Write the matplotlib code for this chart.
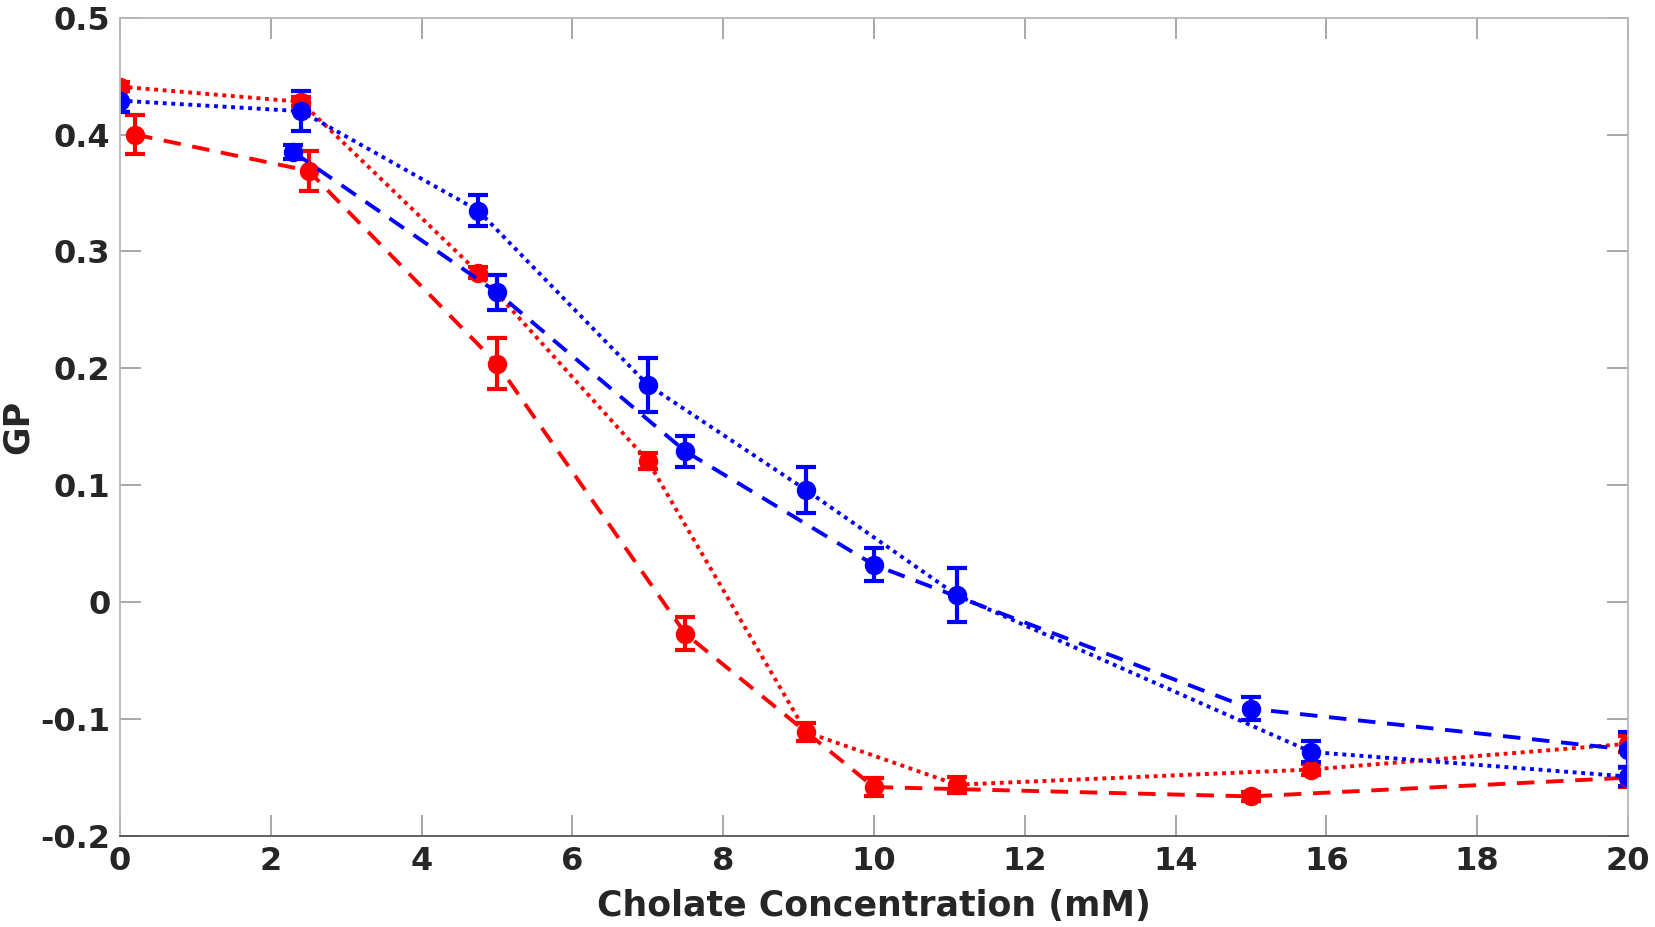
import numpy as np
import matplotlib
matplotlib.use("Agg")
import matplotlib.pyplot as plt

# red, dashed
red_dash_x = [0.2, 2.5, 5.0, 7.5, 10.0, 15.0, 20.0]
red_dash_y = [0.400, 0.369, 0.204, -0.027, -0.158, -0.166, -0.150]
red_dash_err = [0.017, 0.017, 0.022, 0.014, 0.008, 0.004, 0.008]

# red, dotted
red_dot_x = [0.0, 2.4, 4.75, 7.0, 9.1, 11.1, 15.8, 20.0]
red_dot_y = [0.441, 0.428, 0.282, 0.121, -0.111, -0.156, -0.143, -0.121]
red_dot_err = [0.004, 0.004, 0.005, 0.007, 0.008, 0.007, 0.005, 0.007]

# blue, dashed
blue_dash_x = [2.3, 5.0, 7.5, 10.0, 15.0, 20.0]
blue_dash_y = [0.385, 0.265, 0.129, 0.032, -0.091, -0.126]
blue_dash_err = [0.006, 0.015, 0.013, 0.014, 0.010, 0.015]

# blue, dotted
blue_dot_x = [0.0, 2.4, 4.75, 7.0, 9.1, 11.1, 15.8, 20.0]
blue_dot_y = [0.429, 0.420, 0.335, 0.186, 0.096, 0.006, -0.128, -0.149]
blue_dot_err = [0.010, 0.017, 0.013, 0.023, 0.020, 0.023, 0.009, 0.008]

xticks = np.arange(0, 21, 2)
yticks = [-0.2, -0.1, 0, 0.1, 0.2, 0.3, 0.4, 0.5]
ytick_labels = ["-0.2", "-0.1", "0", "0.1", "0.2", "0.3", "0.4", "0.5"]

fig = plt.figure(figsize=(16.56, 9.27), dpi=100)
ax = fig.add_axes([0.0725, 0.098, 0.9105, 0.883])

dash = (0, (4.5, 3))
dot = (0, (1, 1.2))
kw = dict(marker="o", markersize=13, lw=2.8, elinewidth=3, capsize=7.5, capthick=3)

ax.errorbar(red_dash_x, red_dash_y, yerr=red_dash_err, color="#ff0000", ls=dash, **kw)
ax.errorbar(red_dot_x, red_dot_y, yerr=red_dot_err, color="#ff0000", ls=dot, **kw)
ax.errorbar(blue_dash_x, blue_dash_y, yerr=blue_dash_err, color="#0000ff", ls=dash, **kw)
ax.errorbar(blue_dot_x, blue_dot_y, yerr=blue_dot_err, color="#0000ff", ls=dot, **kw)

ax.set_xlim(0, 20)
ax.set_ylim(-0.2, 0.5)
ax.set_xticks(xticks)
ax.set_yticks(yticks)
ax.set_yticklabels(ytick_labels)

for s in ax.spines.values():
    s.set_color("#b8b8b8")
    s.set_linewidth(1.3)
ax.spines["bottom"].set_color("#555555")
ax.tick_params(direction="in", length=15, width=1.2, color="#999999",
               top=True, right=True, labelsize=23, labelcolor="#262626", pad=7)
for lab in ax.get_xticklabels() + ax.get_yticklabels():
    lab.set_fontweight("bold")

ax.set_xlabel("Cholate Concentration (mM)", fontsize=25, fontweight="bold",
              color="#262626", labelpad=9)
ax.set_ylabel("GP", fontsize=25, fontweight="bold", color="#262626", labelpad=4)

fig.savefig("out.png", dpi=100)
